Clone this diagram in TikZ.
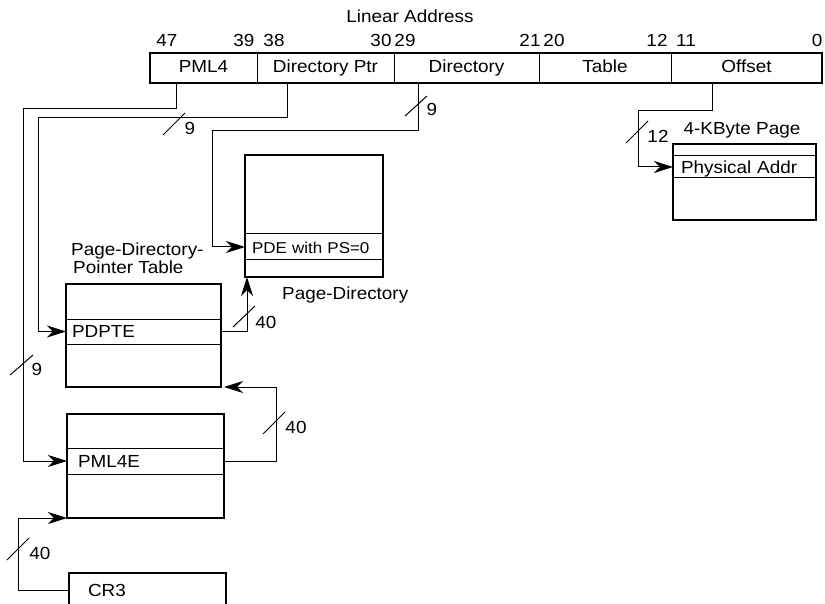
\documentclass[tikz,border=0pt]{standalone}
\usepackage{fontspec}
\setmainfont{Liberation Sans}[FakeStretch=1.08]
\usetikzlibrary{arrows.meta,calc}
\begin{document}
\begin{tikzpicture}[x=1pt,y=-1pt,
  font=\fontsize{17.5}{20}\selectfont,
  conn/.style={line width=1pt},
  arr/.style={conn,-{Stealth[length=19pt,width=12pt,inset=6pt]}},
  frame/.style={draw,line width=2.2pt,anchor=north west,inner sep=0pt,outer sep=0pt},
  field/.style={anchor=north west,minimum height=30pt,inner sep=0pt,outer sep=0pt,text height=12.5pt,text depth=4pt},
  rowst/.style={draw,line width=1pt,anchor=north west,inner ysep=0pt,outer sep=0pt,align=left,text height=12.5pt,text depth=0pt},
  lbl/.style={inner sep=0pt,anchor=base}
]
\clip (0,0) rectangle (825,604);
% linear address
\node[lbl] (title) at (410,23) {Linear Address};
\node[field,minimum width=107pt] (f1) at (150,53) {PML4};
\node[field,minimum width=137pt] (f2) at (257,53) {Directory Ptr};
\node[field,minimum width=145pt] (f3) at (394,53) {Directory};
\node[field,minimum width=132pt] (f4) at (539,53) {Table};
\node[field,minimum width=151pt] (f5) at (671,53) {Offset};
\draw[line width=2.2pt] (f1.north west) rectangle (f5.south east);
\foreach \f in {f1,f2,f3,f4}{\draw[conn] (\f.north east) -- (\f.south east);}
\node[lbl] (b47) at (167,47) {47};
\node[lbl] (b39) at (244,47) {39};
\node[lbl] (b38) at (274,47) {38};
\node[lbl] (b30) at (381,47) {30};
\node[lbl] (b29) at (405,47) {29};
\node[lbl] (b21) at (530,47) {21};
\node[lbl] (b20) at (554,47) {20};
\node[lbl] (b12) at (657,47) {12};
\node[lbl] (b11) at (686,47) {11};
\node[lbl] (b0) at (817,47) {0};

% 4-KByte page
\node[lbl] (pagelbl) at (742,135) {4-KByte Page};
\node[rowst,minimum height=22pt,inner xsep=8pt,text width=127pt] (phys) at (673,156) {Physical Addr};
\node[frame,minimum width=143pt,minimum height=76pt] (page) at (673,144) {};

% page directory
\node[rowst,minimum height=26pt,inner xsep=7pt,text width=124pt,font=\fontsize{15.7}{18}\selectfont] (pde) at (245,234) {PDE with PS=0};
\node[frame,minimum width=138pt,minimum height=122pt] (pd) at (245,155) {};
\node[lbl,anchor=base west] (pdlbl) at (282,300) {Page-Directory};

% page directory pointer table
\node[lbl,anchor=base west] (pdptlbl1) at (71,256) {Page-Directory-};
\node[lbl,anchor=base west] (pdptlbl2) at (73,274) {Pointer Table};
\node[rowst,minimum height=25pt,inner xsep=6pt,text width=143pt] (pdpte) at (66,319) {PDPTE};
\node[frame,minimum width=155pt,minimum height=103pt] (pdpt) at (66,284) {};

% PML4 table
\node[rowst,minimum height=26pt,inner xsep=11pt,text width=135pt] (pml4e) at (67,448) {PML4E};
\node[frame,minimum width=157pt,minimum height=104pt] (pml4t) at (67,414) {};

% CR3
\node[frame,minimum width=157pt,minimum height=34pt,inner xsep=19pt,text width=119pt,align=left,text height=12.5pt,text depth=0pt] (cr3) at (69,573) {CR3};

% connectors from the linear address
\coordinate (a1) at ($(f1.south west)+(26,0)$);
\coordinate (k1) at (23,109);
\draw[arr] (a1) |- (k1) |- (pml4e.west);
\draw[conn] (10,375) -- (33,355);
\node[lbl] (n1) at (37,375) {9};

\coordinate (a2) at ($(f2.south west)+(30,0)$);
\coordinate (k2) at (38,118);
\draw[arr] (a2) |- (k2) |- (pdpte.west);
\draw[conn] (163,135) -- (185,113);
\node[lbl] (n2) at (190,135) {9};

\coordinate (a3) at ($(f3.south west)+(24,0)$);
\coordinate (k3) at (212,131);
\draw[arr] (a3) |- (k3) |- (pde.west);
\draw[conn] (405,116) -- (427,96);
\node[lbl] (n3) at (432,116) {9};

\coordinate (a4) at ($(f5.south west)+(41,0)$);
\coordinate (k4) at (638,111);
\draw[arr] (a4) |- (k4) |- (phys.west);
\draw[conn] (626,143) -- (648,121);
\node[lbl] (n4) at (658,143) {12};

% table to table
\coordinate (c5) at ($(pd.south west)+(2,0)$);
\draw[arr] (pdpte.east) -| (c5);
\draw[conn] (233,327) -- (255,306);
\node[lbl] (n5) at (266,328) {40};

\coordinate (c6) at ($(pdpt.south east)+(3,0)$);
\coordinate (k6) at ($(pdpt.south east)+(55,0)$);
\draw[arr] (pml4e.east) -| (k6) -- (c6);
\draw[conn] (263,434) -- (285,412);
\node[lbl] (n6) at (296,433) {40};

\coordinate (k7) at ($(cr3.west)+(-51,0)$);
\draw[arr] (cr3.west) -- (k7) |- (pml4t.south west);
\draw[conn] (7,560) -- (29,538);
\node[lbl] (n7) at (40,559) {40};
\end{tikzpicture}
\end{document}
